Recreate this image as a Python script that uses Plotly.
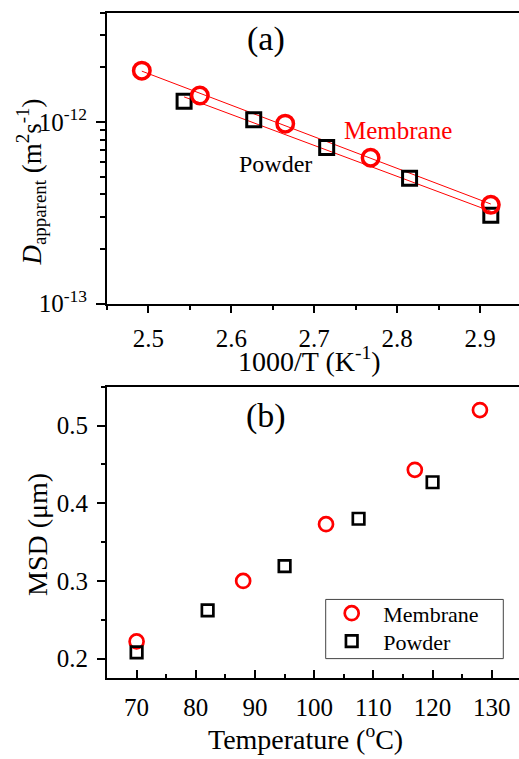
import numpy as np
import plotly.graph_objects as go

# ---------------- data ----------------
# panel (a): apparent diffusion coefficient vs 1000/T
mem_invT = [2.492, 2.562, 2.665, 2.768, 2.913]
mem_D = [1.92e-12, 1.40e-12, 0.98e-12, 6.36e-13, 3.50e-13]
pow_invT = [2.543, 2.627, 2.715, 2.815, 2.913]
pow_D = [1.30e-12, 1.03e-12, 7.24e-13, 4.90e-13, 3.07e-13]

# panel (b): MSD vs temperature
mem_T = [70, 88, 102, 117, 128]
mem_msd = [0.222, 0.300, 0.373, 0.443, 0.520]
pow_T = [70, 82, 95, 107.5, 120]
pow_msd = [0.208, 0.262, 0.319, 0.380, 0.427]

ylog_tickvals = [1e-13, 1e-12]
ylog_ticktext = ["10<sup>-13</sup>", "10<sup>-12</sup>"]
ylog_minorvals = [2e-13, 3e-13, 4e-13, 5e-13, 6e-13, 7e-13, 8e-13, 9e-13,
                  2e-12, 3e-12, 4e-12]

W, H = 519, 759
FONT = "Liberation Serif"
RED = "#ff0000"


def px_x(p):
    return p / W


def px_y(p):
    return 1 - p / H


# Arrhenius fit lines (fit of log10(D) vs 1000/T)
def fit_line(x, y):
    c = np.polyfit(np.array(x), np.log10(np.array(y)), 1)
    xs = np.array([min(x), max(x)])
    return xs, 10 ** np.polyval(c, xs)


fig = go.Figure()

mx, my = fit_line(mem_invT, mem_D)
px_, py_ = fit_line(pow_invT, pow_D)
fig.add_trace(go.Scatter(x=mx, y=my, mode="lines", line=dict(color=RED, width=1),
                         xaxis="x", yaxis="y", showlegend=False, hoverinfo="skip"))
fig.add_trace(go.Scatter(x=px_, y=py_, mode="lines", line=dict(color=RED, width=1),
                         xaxis="x", yaxis="y", showlegend=False, hoverinfo="skip"))
fig.add_trace(go.Scatter(x=pow_invT, y=pow_D, mode="markers", xaxis="x", yaxis="y",
                         marker=dict(symbol="square-open", size=14, color="black",
                                     line=dict(color="black", width=3)),
                         showlegend=False))
fig.add_trace(go.Scatter(x=mem_invT, y=mem_D, mode="markers", xaxis="x", yaxis="y",
                         marker=dict(symbol="circle-open", size=16.5, color=RED,
                                     line=dict(color=RED, width=3.5)),
                         showlegend=False))

# panel (b)
NB = "\u00a0"
fig.add_trace(go.Scatter(x=mem_T, y=mem_msd, mode="markers", name=NB + "Membrane",
                         xaxis="x2", yaxis="y2", legend="legend",
                         marker=dict(symbol="circle-open", size=14, color=RED,
                                     line=dict(color=RED, width=2.7))))
fig.add_trace(go.Scatter(x=pow_T, y=pow_msd, mode="markers", name=NB + "Powder",
                         xaxis="x2", yaxis="y2", legend="legend2",
                         marker=dict(symbol="square-open", size=11.5, color="black",
                                     line=dict(color="black", width=2.7))))

tickfont = dict(family=FONT, size=25, color="black")
axcommon = dict(showline=True, linecolor="black", linewidth=2, showgrid=False,
                zeroline=False, tickfont=tickfont, tickcolor="black")

legend_common = dict(xanchor="left", yanchor="top", bgcolor="rgba(0,0,0,0)",
                     borderwidth=0, font=dict(family=FONT, size=22, color="black"),
                     itemwidth=42)

fig.update_layout(
    width=W, height=H,
    margin=dict(l=0, r=0, t=0, b=0),
    paper_bgcolor="white", plot_bgcolor="white",
    font=dict(family=FONT, color="black"),
    xaxis=dict(domain=[px_x(107), 1], anchor="y", range=[2.45, 2.947],
               tickmode="linear", tick0=2.5, dtick=0.1, tickformat=".1f",
               ticks="outside", ticklen=7, tickwidth=1.5, mirror=True,
               ticklabelstandoff=4,
               minor=dict(ticks="outside", ticklen=4, tickwidth=1.5, dtick=0.05,
                          tick0=2.45, tickcolor="black"),
               **axcommon),
    yaxis=dict(domain=[px_y(309.3), px_y(13)], anchor="x", type="log",
               range=[-13, np.log10(4e-12)],
               tickmode="array", tickvals=ylog_tickvals, ticktext=ylog_ticktext,
               ticks="outside", ticklen=9, tickwidth=1.5, ticklabelstandoff=4,
               minor=dict(ticks="outside", ticklen=5, tickwidth=1.5,
                          tickmode="array", tickvals=ylog_minorvals,
                          tickcolor="black"),
               **axcommon),
    xaxis2=dict(domain=[px_x(107), 1], anchor="y2", range=[65, 134.6],
                tickmode="linear", tick0=70, dtick=10,
                ticks="inside", ticklen=8, tickwidth=1.5, mirror=True,
                ticklabelstandoff=6,
                minor=dict(ticks="inside", ticklen=4, tickwidth=1.5, dtick=5,
                           tick0=65, tickcolor="black"),
                **axcommon),
    yaxis2=dict(domain=[px_y(690.7), px_y(394)], anchor="x2", range=[0.175, 0.55],
                tickmode="linear", tick0=0.2, dtick=0.1, tickformat=".1f",
                ticks="outside", ticklen=8, tickwidth=1.5, ticklabelstandoff=4,
                minor=dict(ticks="outside", ticklen=4, tickwidth=1.5, dtick=0.05,
                           tick0=0.15, tickcolor="black"),
                **axcommon),
    legend=dict(x=px_x(325.7), y=px_y(603.5), **legend_common),
    legend2=dict(x=px_x(325.7), y=px_y(632), **legend_common),
    showlegend=True,
    shapes=[dict(type="rect", xref="paper", yref="paper",
                 x0=px_x(325.7), x1=px_x(503.3), y0=px_y(671), y1=px_y(610.7),
                 line=dict(color="#444444", width=1), fillcolor="white",
                 layer="above")],
)

ann = [
    dict(text="(a)", x=px_x(265.7), y=px_y(40), size=34, color="black"),
    dict(text="(b)", x=px_x(265.7), y=px_y(424), size=34, color="black"),
    dict(text="Membrane", x=px_x(398), y=px_y(133), size=25, color=RED),
    dict(text="Powder", x=px_x(275), y=px_y(167.5), size=24, color="black"),
    dict(text="1000/T (K<sup>-1</sup>)", x=px_x(309), y=px_y(366), size=28, color="black"),
    dict(text="Temperature (<sup>o</sup>C)", x=px_x(305), y=px_y(751), size=28, color="black"),
]
for a in ann:
    fig.add_annotation(text=a["text"], x=a["x"], y=a["y"], xref="paper", yref="paper",
                       xanchor="center", yanchor="middle", showarrow=False,
                       font=dict(family=FONT, size=a["size"], color=a["color"]))

fig.add_annotation(text="<i>D</i><sub>apparent</sub> (m<sup>2</sup>s<sup>-1</sup>)",
                   x=px_x(31), y=px_y(186), xref="paper", yref="paper",
                   xanchor="center", yanchor="middle", showarrow=False, textangle=-90,
                   font=dict(family=FONT, size=27, color="black"))
fig.add_annotation(text="MSD (μm)",
                   x=px_x(38), y=px_y(545), xref="paper", yref="paper",
                   xanchor="center", yanchor="middle", showarrow=False, textangle=-90,
                   font=dict(family=FONT, size=28, color="black"))

fig.write_html("out.html")
